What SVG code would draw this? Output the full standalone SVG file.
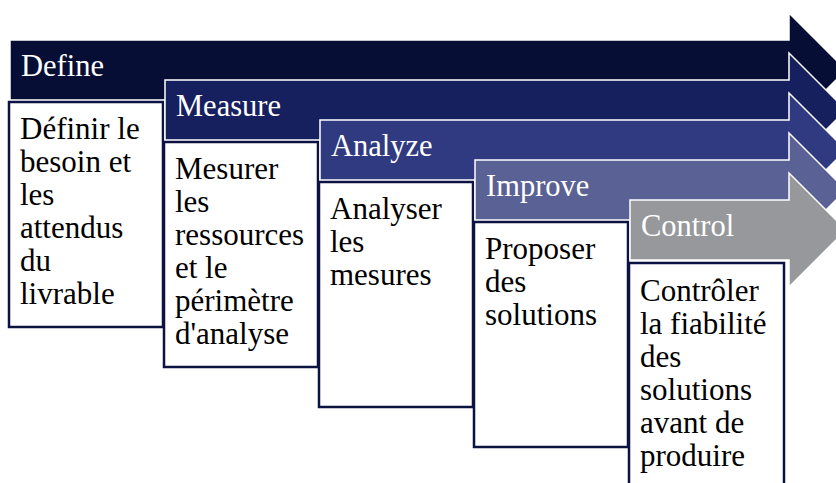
<svg xmlns="http://www.w3.org/2000/svg" width="836" height="483" viewBox="0 0 836 483">
<style>
.arr{stroke:#ffffff;stroke-width:1.5;stroke-linejoin:miter}
.box{fill:#ffffff;stroke:#0c1342;stroke-width:2.5}
.hd{font-family:"Liberation Serif","Times New Roman",serif;font-size:30.5px;fill:#ffffff}
.tx{font-family:"Liberation Serif","Times New Roman",serif;font-size:31px;fill:#000000}
</style>
<rect width="836" height="483" fill="#ffffff"/>
<g id="step-define">
<path class="arr" fill="#060e36" d="M10,40 H789 V13 L846,70 L789,127 V100 H10 Z"/>
<text class="hd" x="21" y="76">Define</text>
<rect class="box" x="9" y="102" width="154" height="225"/>
<text class="tx" x="20" y="139"><tspan x="20">Définir le</tspan><tspan x="20" dy="33">besoin et</tspan><tspan x="20" dy="33">les</tspan><tspan x="20" dy="33">attendus</tspan><tspan x="20" dy="33">du</tspan><tspan x="20" dy="33">livrable</tspan></text>
</g>
<g id="step-measure">
<path class="arr" fill="#17205f" d="M165,80 H789 V53 L846,110 L789,167 V140 H165 Z"/>
<text class="hd" x="176" y="116">Measure</text>
<rect class="box" x="164" y="142" width="154" height="225"/>
<text class="tx" x="175" y="179"><tspan x="175">Mesurer</tspan><tspan x="175" dy="33">les</tspan><tspan x="175" dy="33">ressources</tspan><tspan x="175" dy="33">et le</tspan><tspan x="175" dy="33">périmètre</tspan><tspan x="175" dy="33">d'analyse</tspan></text>
</g>
<g id="step-analyze">
<path class="arr" fill="#2f3a80" d="M320,120 H789 V93 L846,150 L789,207 V180 H320 Z"/>
<text class="hd" x="331" y="156">Analyze</text>
<rect class="box" x="319" y="182" width="154" height="225"/>
<text class="tx" x="330" y="219"><tspan x="330">Analyser</tspan><tspan x="330" dy="33">les</tspan><tspan x="330" dy="33">mesures</tspan></text>
</g>
<g id="step-improve">
<path class="arr" fill="#5a6295" d="M475,160 H789 V133 L846,190 L789,247 V220 H475 Z"/>
<text class="hd" x="486" y="196">Improve</text>
<rect class="box" x="474" y="222" width="154" height="225"/>
<text class="tx" x="485" y="259"><tspan x="485">Proposer</tspan><tspan x="485" dy="33">des</tspan><tspan x="485" dy="33">solutions</tspan></text>
</g>
<g id="step-control">
<path class="arr" fill="#97989b" d="M630,200 H789 V173 L846,230 L789,287 V260 H630 Z"/>
<text class="hd" x="641" y="236">Control</text>
<rect class="box" x="629" y="263" width="155" height="225"/>
<text class="tx" x="640" y="301"><tspan x="640">Contrôler</tspan><tspan x="640" dy="33">la fiabilité</tspan><tspan x="640" dy="33">des</tspan><tspan x="640" dy="33">solutions</tspan><tspan x="640" dy="33">avant de</tspan><tspan x="640" dy="33">produire</tspan></text>
</g>
<g id="connectors"></g>
</svg>
